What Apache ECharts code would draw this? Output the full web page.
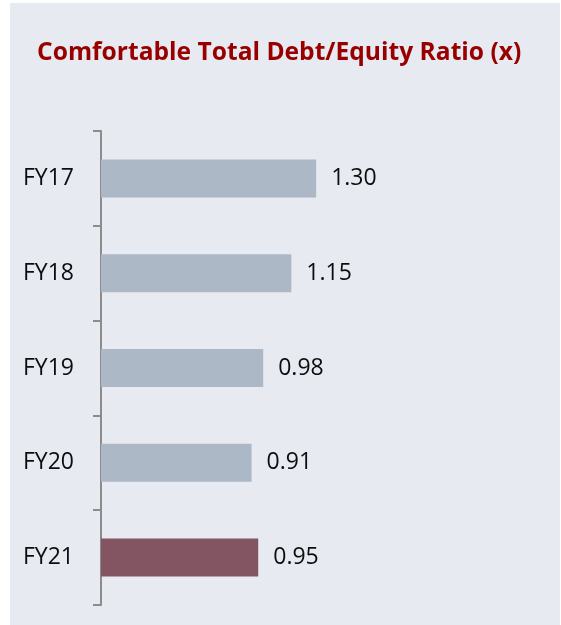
<!DOCTYPE html>
<html>
<head>
<meta charset="utf-8">
<script src="https://cdn.jsdelivr.net/npm/echarts@6/dist/echarts.min.js"></script>
<style>
  html, body { margin: 0; padding: 0; background: #ffffff; }
  #panel {
    position: absolute;
    left: 10px;
    top: 3px;
    width: 550px;
    height: 622px;
    background: #e7eaf0;
  }
  #chart { width: 550px; height: 622px; }
</style>
</head>
<body>
<div id="panel"><div id="chart"></div></div>
<script>
const categories = ['FY17', 'FY18', 'FY19', 'FY20', 'FY21'];
const ratios = [1.30, 1.15, 0.98, 0.91, 0.95];
const highlightYear = 'FY21';

const chart = echarts.init(document.getElementById('chart'));

const option = {
  animation: false,
  title: {
    text: 'Comfortable Total Debt/Equity Ratio (x)',
    left: 27,
    top: 36,
    padding: 0,
    textStyle: {
      fontFamily: 'Open Sans',
      fontWeight: 'bold',
      fontSize: 24.6,
      lineHeight: 28,
      color: '#980000'
    }
  },
  grid: {
    left: 91,
    top: 128,
    width: 331,
    height: 474
  },
  xAxis: {
    type: 'value',
    min: 0,
    max: 2,
    show: false
  },
  yAxis: {
    type: 'category',
    data: categories,
    inverse: true,
    axisLine: { lineStyle: { color: '#8c8c8c', width: 2 } },
    axisTick: { show: true, length: 8, lineStyle: { color: '#8c8c8c', width: 2 } },
    axisLabel: {
      margin: 27,
      padding: [5, 0, 0, 0],
      fontFamily: 'Open Sans',
      fontSize: 23,
      color: '#0d0d0d'
    }
  },
  series: [
    {
      type: 'bar',
      data: ratios,
      barWidth: 38,
      itemStyle: {
        color: (p) => (p.name === highlightYear ? '#835462' : '#adb8c7')
      },
      label: {
        show: true,
        position: 'right',
        distance: 15,
        padding: [5, 0, 0, 0],
        fontFamily: 'Open Sans',
        fontSize: 23,
        color: '#0d0d0d',
        formatter: (p) => p.value.toFixed(2)
      }
    }
  ]
};

chart.setOption(option);
</script>
</body>
</html>
